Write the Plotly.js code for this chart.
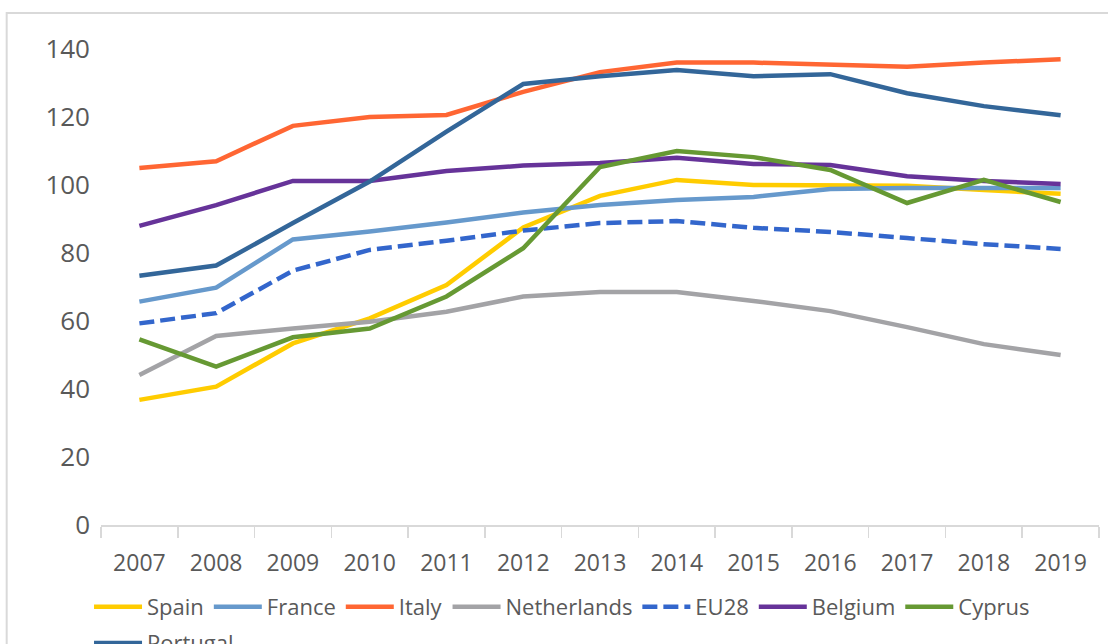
<!DOCTYPE html>
<html>
<head>
<meta charset="utf-8">
<script src="https://cdn.plot.ly/plotly-3.0.1.min.js"></script>
<style>
  html, body { margin: 0; padding: 0; background: #ffffff; }
  #chart { width: 1108px; height: 644px; }
</style>
</head>
<body>
<div id="chart"></div>
<script>
const years = ['2007','2008','2009','2010','2011','2012','2013','2014','2015','2016','2017','2018','2019'];
const yTicks = [0, 20, 40, 60, 80, 100, 120, 140];

const spain       = [36.8, 40.7, 53.4, 60.8, 70.6, 87.5, 96.8, 101.5, 100.0, 99.8, 99.8, 98.5, 97.4];
const france      = [65.7, 69.8, 84.0, 86.3, 89.0, 91.9, 94.1, 95.6, 96.5, 98.8, 99.1, 99.2, 99.1];
const italy       = [105.0, 107.0, 117.4, 120.0, 120.6, 127.4, 133.2, 136.0, 136.0, 135.4, 134.8, 136.0, 137.0];
const netherlands = [44.1, 55.6, 57.8, 59.8, 62.7, 67.2, 68.5, 68.5, 65.9, 62.9, 58.2, 53.2, 50.0];
const eu28        = [59.3, 62.3, 74.8, 80.9, 83.6, 86.6, 88.8, 89.4, 87.4, 86.2, 84.4, 82.6, 81.2];
const belgium     = [88.0, 94.1, 101.2, 101.2, 104.1, 105.7, 106.5, 108.0, 106.2, 105.9, 102.6, 101.2, 100.3];
const cyprus      = [54.6, 46.6, 55.2, 57.8, 67.2, 81.4, 105.3, 110.0, 108.2, 104.4, 94.7, 101.5, 95.0];
const portugal    = [73.3, 76.3, 88.8, 101.0, 115.7, 129.7, 132.0, 133.8, 132.0, 132.6, 127.0, 123.2, 120.5];

const seriesNames = ['Spain', 'France', 'Italy', 'Netherlands', 'EU28', 'Belgium', 'Cyprus', 'Portugal'];
const seriesData  = [spain, france, italy, netherlands, eu28, belgium, cyprus, portugal];
const colors = ['#FFCC00', '#6699CC', '#FF6633', '#A3A3A6', '#3366CC', '#663399', '#669933', '#336699'];

const traces = seriesNames.map((name, i) => ({
  type: 'scatter',
  mode: 'lines',
  name: name,
  x: years,
  y: seriesData[i],
  line: { color: colors[i], width: 4.5, dash: name === 'EU28' ? '15px,6px' : 'solid' },
  legend: name === 'Portugal' ? 'legend2' : 'legend',
  hoverinfo: 'x+y+name'
}));

const textColor = '#595959';
const fontFam = '"Open Sans", "Liberation Sans", sans-serif';

const layout = {
  width: 1108,
  height: 644,
  margin: { l: 101, r: 9, t: 49, b: 119, autoexpand: false },
  paper_bgcolor: '#ffffff',
  plot_bgcolor: '#ffffff',
  font: { family: fontFam, color: textColor },
  showlegend: true,
  xaxis: {
    type: 'category',
    range: [-0.5, 12.5],
    tickson: 'boundaries',
    ticks: 'outside',
    ticklen: 11,
    tickwidth: 1.5,
    tickcolor: '#d9d9d9',
    showline: true,
    linecolor: '#d9d9d9',
    linewidth: 1.5,
    showgrid: false,
    zeroline: false,
    ticklabelstandoff: 17,
    tickfont: { size: 23, color: textColor, family: fontFam },
    automargin: false,
    fixedrange: true
  },
  yaxis: {
    range: [0, 140],
    tickvals: yTicks,
    ticktext: yTicks.map(String),
    showgrid: false,
    zeroline: false,
    showline: false,
    ticks: '',
    ticklabelstandoff: 10,
    tickfont: { size: 26, color: textColor, family: fontFam },
    automargin: false,
    fixedrange: true
  },
  legend: {
    orientation: 'h',
    x: -0.012,
    xanchor: 'left',
    y: -0.128,
    yanchor: 'top',
    itemwidth: 48,
    font: { size: 22, color: textColor, family: fontFam },
    bgcolor: 'rgba(0,0,0,0)',
    traceorder: 'normal'
  },
  legend2: {
    orientation: 'h',
    x: -0.012,
    xanchor: 'left',
    y: -0.204,
    yanchor: 'top',
    itemwidth: 48,
    font: { size: 22, color: textColor, family: fontFam },
    bgcolor: 'rgba(0,0,0,0)'
  },
  shapes: [{
    type: 'rect',
    xref: 'paper', yref: 'paper',
    x0: -0.0945, x1: 1.05, y0: -0.4, y1: 1.0756,
    line: { color: '#d9d9d9', width: 2 },
    fillcolor: 'rgba(0,0,0,0)',
    layer: 'below'
  }]
};

Plotly.newPlot('chart', traces, layout, { displayModeBar: false, staticPlot: true });
</script>
</body>
</html>
